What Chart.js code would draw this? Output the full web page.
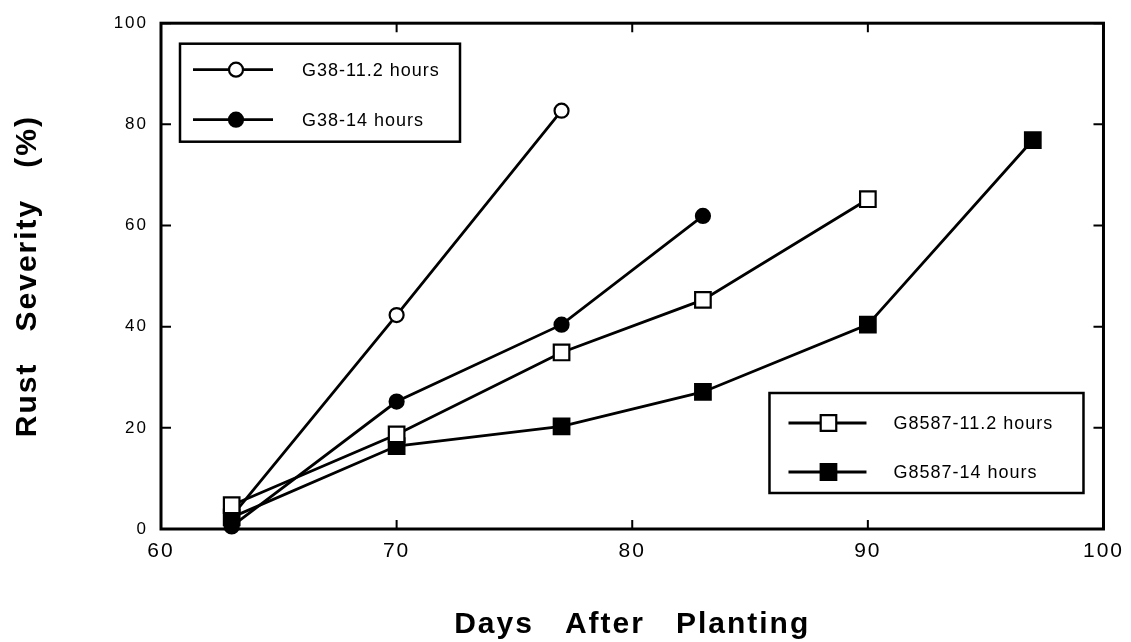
<!DOCTYPE html>
<html>
<head>
<meta charset="utf-8">
<script src="https://cdn.jsdelivr.net/npm/chart.js@4.4.1/dist/chart.umd.min.js"></script>
<style>
  html, body { margin: 0; padding: 0; background: #fff; }
</style>
</head>
<body>
<canvas id="chart" width="1131" height="642"></canvas>
<script>
// values
const days = [63, 70, 77, 83, 90, 97];
const g38Short = [2.5, 42.3, 82.7];              // G38-11.2 hours
const g38Long = [0.5, 25.2, 40.4, 61.9];         // G38-14 hours
const g8587Short = [4.7, 18.7, 34.9, 45.3, 65.2]; // G8587-11.2 hours
const g8587Long = [2.3, 16.4, 20.3, 27.1, 40.4, 76.9]; // G8587-14 hours

const xTicks = [60, 70, 80, 90, 100];
const yTicks = [0, 20, 40, 60, 80, 100];

const FONT = "'Liberation Sans', Arial, sans-serif";

function points(values) {
  return values.map((v, i) => ({ x: days[i], y: v }));
}

function series(label, values, style, filled) {
  return {
    label,
    data: points(values),
    borderColor: '#000',
    borderWidth: 2.8,
    pointStyle: style,
    pointRadius: style === 'rect' ? 11 : 7,
    pointBorderWidth: 2.2,
    pointBorderColor: '#000',
    pointBackgroundColor: filled ? '#000' : '#fff',
    tension: 0,
    clip: false
  };
}

// first dataset ends up on top, so the open squares go first
const o38s = series('G38-11.2 hours', g38Short, 'circle', false);
const o38l = series('G38-14 hours', g38Long, 'circle', true);
const o87s = series('G8587-11.2 hours', g8587Short, 'rect', false);
const o87l = series('G8587-14 hours', g8587Long, 'rect', true);
const datasets = [o87s, o87l, o38l, o38s];

function marker(ctx, ds, x, y) {
  ctx.save();
  ctx.lineWidth = ds.pointBorderWidth;
  ctx.strokeStyle = '#000';
  ctx.fillStyle = ds.pointBackgroundColor;
  ctx.beginPath();
  if (ds.pointStyle === 'rect') {
    const s = ds.pointRadius * Math.SQRT1_2;
    ctx.rect(x - s, y - s, 2 * s, 2 * s);
  } else {
    ctx.arc(x, y, ds.pointRadius, 0, Math.PI * 2);
  }
  ctx.fill();
  ctx.stroke();
  ctx.restore();
}

// spaced-out lettering like the scanned figure
const spacing = {
  id: 'spacing',
  beforeDraw(chart) { chart.ctx.letterSpacing = '2px'; }
};

// box around plot + inward tick marks + the two boxed legends
const frame = {
  id: 'frame',
  afterDatasetsDraw(chart) {
    const { ctx, chartArea: a, scales } = chart;
    ctx.save();
    ctx.strokeStyle = '#000';
    ctx.lineWidth = 2;
    ctx.beginPath();
    scales.x.ticks.forEach(t => {
      const px = scales.x.getPixelForValue(t.value);
      ctx.moveTo(px, a.bottom); ctx.lineTo(px, a.bottom - 9);
      ctx.moveTo(px, a.top); ctx.lineTo(px, a.top + 9);
    });
    scales.y.ticks.forEach(t => {
      const py = scales.y.getPixelForValue(t.value);
      ctx.moveTo(a.left, py); ctx.lineTo(a.left + 10, py);
      ctx.moveTo(a.right, py); ctx.lineTo(a.right - 10, py);
    });
    ctx.stroke();
    ctx.lineWidth = 3;
    ctx.strokeRect(a.left, a.top, a.right - a.left, a.bottom - a.top);

    const boxes = [
      { x: a.left + 19, y: a.top + 20.5, w: 280, h: 98, rows: [26, 76],
        line: [13, 93], mark: 56, text: 122, items: [o38s, o38l] },
      { x: a.right - 334, y: a.bottom - 136, w: 314, h: 100, rows: [30, 79],
        line: [19, 97], mark: 59, text: 124, items: [o87s, o87l] }
    ];
    boxes.forEach(b => {
      ctx.lineWidth = 2.5;
      ctx.fillStyle = '#fff';
      ctx.fillRect(b.x, b.y, b.w, b.h);
      ctx.strokeRect(b.x, b.y, b.w, b.h);
      b.items.forEach((ds, i) => {
        const ry = b.y + b.rows[i];
        ctx.lineWidth = 2.8;
        ctx.beginPath();
        ctx.moveTo(b.x + b.line[0], ry);
        ctx.lineTo(b.x + b.line[1], ry);
        ctx.stroke();
        marker(ctx, ds, b.x + b.mark, ry);
        ctx.fillStyle = '#000';
        ctx.font = '18px ' + FONT;
        ctx.letterSpacing = '1px';
        ctx.textAlign = 'left';
        ctx.textBaseline = 'middle';
        ctx.fillText(ds.label, b.x + b.text, ry + 1);
        ctx.letterSpacing = '2px';
      });
    });
    ctx.restore();
  }
};

new Chart(document.getElementById('chart'), {
  type: 'line',
  data: { datasets },
  options: {
    responsive: false,
    animation: false,
    devicePixelRatio: 1,
    layout: { padding: { left: 0, top: 16, right: 26, bottom: 0 } },
    plugins: {
      legend: { display: false },
      tooltip: { enabled: false }
    },
    scales: {
      x: {
        type: 'linear',
        min: 60,
        max: 100,
        afterBuildTicks: s => { s.ticks = xTicks.map(v => ({ value: v })); },
        afterFit: s => { s.height = 113; },
        grid: { display: false, drawTicks: false },
        border: { display: false },
        ticks: { color: '#000', padding: 10, maxRotation: 0, font: { family: FONT, size: 21 } },
        title: {
          display: true,
          text: 'Days   After   Planting',
          color: '#000',
          font: { family: FONT, size: 30, weight: 'bold', lineHeight: 1 },
          padding: { top: 0, bottom: 2 }
        }
      },
      y: {
        min: 0,
        max: 100,
        afterBuildTicks: s => { s.ticks = yTicks.map(v => ({ value: v })); },
        afterFit: s => { s.width = 161; },
        grid: { display: false, drawTicks: false },
        border: { display: false },
        ticks: { color: '#000', padding: 13, font: { family: FONT, size: 17 } },
        title: {
          display: true,
          text: 'Rust   Severity   (%)',
          color: '#000',
          font: { family: FONT, size: 30, weight: 'bold', lineHeight: 1 },
          padding: { top: 13, bottom: 0 }
        }
      }
    }
  },
  plugins: [spacing, frame]
});
</script>
</body>
</html>
